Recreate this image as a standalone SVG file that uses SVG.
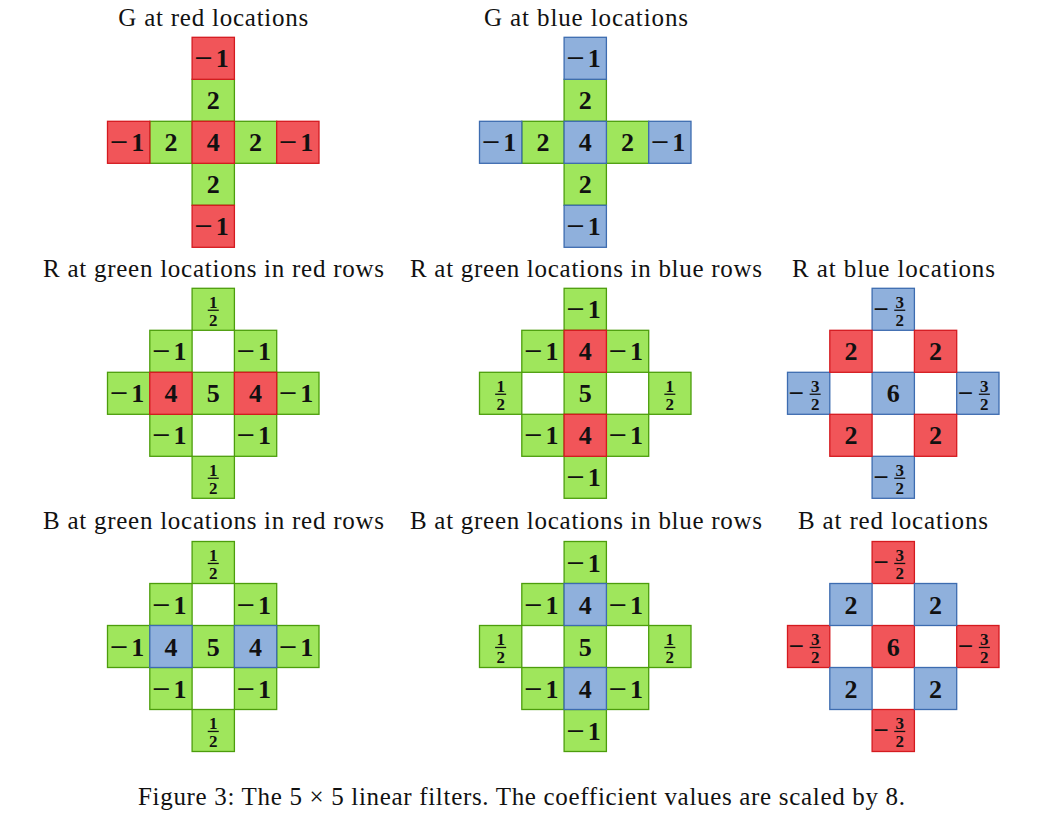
<svg xmlns="http://www.w3.org/2000/svg" width="1056" height="815" viewBox="0 0 1056 815">
<style>
.r{fill:#F15559;stroke:#D41A1F;stroke-width:1.3}
.g{fill:#9FE65C;stroke:#4C9D0C;stroke-width:1.3}
.b{fill:#8FB0DC;stroke:#3D6CB0;stroke-width:1.3}
.n{font-family:"Liberation Serif","DejaVu Serif",serif;font-weight:bold;font-size:26px;text-anchor:middle;fill:#111}
.f{font-family:"Liberation Serif","DejaVu Serif",serif;font-weight:bold;font-size:17px;text-anchor:middle;fill:#111}
.t{font-family:"Liberation Serif","DejaVu Serif",serif;font-size:25px;text-anchor:middle;fill:#111}
.bar{fill:#111}
</style>
<rect width="1056" height="815" fill="#fff"/>
<defs>
<g id="half">
<text class="f" x="0" y="-1.5">1</text>
<rect class="bar" x="-5.5" y="0.3" width="11" height="1.3"/>
<text class="f" x="0" y="16.5">2</text>
</g>
<g id="m1">
<text class="n" transform="translate(-9.5,9) scale(1.25,1)">−</text>
<text class="n" x="9" y="9">1</text>
</g>
<g id="m32">
<text class="n" transform="translate(-12,8.5) scale(1.05,1)">−</text>
<text class="f" x="6.5" y="-1.5">3</text>
<rect class="bar" x="1" y="0.3" width="11" height="1.3"/>
<text class="f" x="6.5" y="16.5">2</text>
</g>
</defs>

<g id="titles">
<text class="t" x="213.3" y="26" textLength="190">G at red locations</text>
<text class="t" x="586" y="26" textLength="204">G at blue locations</text>
<text class="t" x="213.5" y="277" textLength="341">R at green locations in red rows</text>
<text class="t" x="586" y="277" textLength="352">R at green locations in blue rows</text>
<text class="t" x="893.5" y="277" textLength="203">R at blue locations</text>
<text class="t" x="213.5" y="529" textLength="341">B at green locations in red rows</text>
<text class="t" x="586" y="529" textLength="352">B at green locations in blue rows</text>
<text class="t" x="893" y="529" textLength="190">B at red locations</text>
</g>

<!-- G at red -->
<g id="g-red" transform="translate(107.5,37.3)">
<rect class="g" x="84.6" y="42" width="42.3" height="42"/>
<rect class="g" x="84.6" y="126" width="42.3" height="42"/>
<rect class="g" x="42.3" y="84" width="42.3" height="42"/>
<rect class="g" x="126.9" y="84" width="42.3" height="42"/>
<rect class="r" x="84.6" y="0" width="42.3" height="42"/>
<rect class="r" x="84.6" y="168" width="42.3" height="42"/>
<rect class="r" x="0" y="84" width="42.3" height="42"/>
<rect class="r" x="169.2" y="84" width="42.3" height="42"/>
<rect class="r" x="84.6" y="84" width="42.3" height="42"/>
<text class="n" x="105.75" y="72">2</text>
<text class="n" x="105.75" y="156">2</text>
<text class="n" x="63.45" y="114">2</text>
<text class="n" x="148.05" y="114">2</text>
<text class="n" x="105.75" y="114">4</text>
<use href="#m1" x="105.75" y="21"/>
<use href="#m1" x="105.75" y="189"/>
<use href="#m1" x="21.15" y="105"/>
<use href="#m1" x="190.35" y="105"/>
</g>

<!-- G at blue -->
<g id="g-blue" transform="translate(479.5,37.3)">
<rect class="g" x="84.6" y="42" width="42.3" height="42"/>
<rect class="g" x="84.6" y="126" width="42.3" height="42"/>
<rect class="g" x="42.3" y="84" width="42.3" height="42"/>
<rect class="g" x="126.9" y="84" width="42.3" height="42"/>
<rect class="b" x="84.6" y="0" width="42.3" height="42"/>
<rect class="b" x="84.6" y="168" width="42.3" height="42"/>
<rect class="b" x="0" y="84" width="42.3" height="42"/>
<rect class="b" x="169.2" y="84" width="42.3" height="42"/>
<rect class="b" x="84.6" y="84" width="42.3" height="42"/>
<text class="n" x="105.75" y="72">2</text>
<text class="n" x="105.75" y="156">2</text>
<text class="n" x="63.45" y="114">2</text>
<text class="n" x="148.05" y="114">2</text>
<text class="n" x="105.75" y="114">4</text>
<use href="#m1" x="105.75" y="21"/>
<use href="#m1" x="105.75" y="189"/>
<use href="#m1" x="21.15" y="105"/>
<use href="#m1" x="190.35" y="105"/>
</g>

<!-- R at green in red rows -->
<g id="r-green-red" transform="translate(107.5,288.3)">
<rect class="g" x="84.6" y="0" width="42.3" height="42"/>
<rect class="g" x="42.3" y="42" width="42.3" height="42"/>
<rect class="g" x="126.9" y="42" width="42.3" height="42"/>
<rect class="g" x="0" y="84" width="42.3" height="42"/>
<rect class="g" x="84.6" y="84" width="42.3" height="42"/>
<rect class="g" x="169.2" y="84" width="42.3" height="42"/>
<rect class="g" x="42.3" y="126" width="42.3" height="42"/>
<rect class="g" x="126.9" y="126" width="42.3" height="42"/>
<rect class="g" x="84.6" y="168" width="42.3" height="42"/>
<rect class="r" x="42.3" y="84" width="42.3" height="42"/>
<rect class="r" x="126.9" y="84" width="42.3" height="42"/>
<use href="#half" x="105.75" y="21"/>
<use href="#half" x="105.75" y="189"/>
<use href="#m1" x="63.45" y="63"/>
<use href="#m1" x="148.05" y="63"/>
<use href="#m1" x="21.15" y="105"/>
<use href="#m1" x="190.35" y="105"/>
<use href="#m1" x="63.45" y="147"/>
<use href="#m1" x="148.05" y="147"/>
<text class="n" x="63.45" y="114">4</text>
<text class="n" x="105.75" y="114">5</text>
<text class="n" x="148.05" y="114">4</text>
</g>

<!-- R at green in blue rows -->
<g id="r-green-blue" transform="translate(479.5,288.3)">
<rect class="g" x="84.6" y="0" width="42.3" height="42"/>
<rect class="g" x="42.3" y="42" width="42.3" height="42"/>
<rect class="g" x="126.9" y="42" width="42.3" height="42"/>
<rect class="g" x="0" y="84" width="42.3" height="42"/>
<rect class="g" x="84.6" y="84" width="42.3" height="42"/>
<rect class="g" x="169.2" y="84" width="42.3" height="42"/>
<rect class="g" x="42.3" y="126" width="42.3" height="42"/>
<rect class="g" x="126.9" y="126" width="42.3" height="42"/>
<rect class="g" x="84.6" y="168" width="42.3" height="42"/>
<rect class="r" x="84.6" y="42" width="42.3" height="42"/>
<rect class="r" x="84.6" y="126" width="42.3" height="42"/>
<use href="#m1" x="105.75" y="21"/>
<use href="#m1" x="105.75" y="189"/>
<use href="#m1" x="63.45" y="63"/>
<use href="#m1" x="148.05" y="63"/>
<use href="#m1" x="63.45" y="147"/>
<use href="#m1" x="148.05" y="147"/>
<use href="#half" x="21.15" y="105"/>
<use href="#half" x="190.35" y="105"/>
<text class="n" x="105.75" y="72">4</text>
<text class="n" x="105.75" y="114">5</text>
<text class="n" x="105.75" y="156">4</text>
</g>

<!-- R at blue -->
<g id="r-blue" transform="translate(787.5,288.3)">
<rect class="b" x="84.6" y="0" width="42.3" height="42"/>
<rect class="b" x="0" y="84" width="42.3" height="42"/>
<rect class="b" x="84.6" y="84" width="42.3" height="42"/>
<rect class="b" x="169.2" y="84" width="42.3" height="42"/>
<rect class="b" x="84.6" y="168" width="42.3" height="42"/>
<rect class="r" x="42.3" y="42" width="42.3" height="42"/>
<rect class="r" x="126.9" y="42" width="42.3" height="42"/>
<rect class="r" x="42.3" y="126" width="42.3" height="42"/>
<rect class="r" x="126.9" y="126" width="42.3" height="42"/>
<use href="#m32" x="105.75" y="21"/>
<use href="#m32" x="21.15" y="105"/>
<use href="#m32" x="190.35" y="105"/>
<use href="#m32" x="105.75" y="189"/>
<text class="n" x="63.45" y="72">2</text>
<text class="n" x="148.05" y="72">2</text>
<text class="n" x="63.45" y="156">2</text>
<text class="n" x="148.05" y="156">2</text>
<text class="n" x="105.75" y="114">6</text>
</g>

<!-- B at green in red rows -->
<g id="b-green-red" transform="translate(107.5,541.5)">
<rect class="g" x="84.6" y="0" width="42.3" height="42"/>
<rect class="g" x="42.3" y="42" width="42.3" height="42"/>
<rect class="g" x="126.9" y="42" width="42.3" height="42"/>
<rect class="g" x="0" y="84" width="42.3" height="42"/>
<rect class="g" x="84.6" y="84" width="42.3" height="42"/>
<rect class="g" x="169.2" y="84" width="42.3" height="42"/>
<rect class="g" x="42.3" y="126" width="42.3" height="42"/>
<rect class="g" x="126.9" y="126" width="42.3" height="42"/>
<rect class="g" x="84.6" y="168" width="42.3" height="42"/>
<rect class="b" x="42.3" y="84" width="42.3" height="42"/>
<rect class="b" x="126.9" y="84" width="42.3" height="42"/>
<use href="#half" x="105.75" y="21"/>
<use href="#half" x="105.75" y="189"/>
<use href="#m1" x="63.45" y="63"/>
<use href="#m1" x="148.05" y="63"/>
<use href="#m1" x="21.15" y="105"/>
<use href="#m1" x="190.35" y="105"/>
<use href="#m1" x="63.45" y="147"/>
<use href="#m1" x="148.05" y="147"/>
<text class="n" x="63.45" y="114">4</text>
<text class="n" x="105.75" y="114">5</text>
<text class="n" x="148.05" y="114">4</text>
</g>

<!-- B at green in blue rows -->
<g id="b-green-blue" transform="translate(479.5,541.5)">
<rect class="g" x="84.6" y="0" width="42.3" height="42"/>
<rect class="g" x="42.3" y="42" width="42.3" height="42"/>
<rect class="g" x="126.9" y="42" width="42.3" height="42"/>
<rect class="g" x="0" y="84" width="42.3" height="42"/>
<rect class="g" x="84.6" y="84" width="42.3" height="42"/>
<rect class="g" x="169.2" y="84" width="42.3" height="42"/>
<rect class="g" x="42.3" y="126" width="42.3" height="42"/>
<rect class="g" x="126.9" y="126" width="42.3" height="42"/>
<rect class="g" x="84.6" y="168" width="42.3" height="42"/>
<rect class="b" x="84.6" y="42" width="42.3" height="42"/>
<rect class="b" x="84.6" y="126" width="42.3" height="42"/>
<use href="#m1" x="105.75" y="21"/>
<use href="#m1" x="105.75" y="189"/>
<use href="#m1" x="63.45" y="63"/>
<use href="#m1" x="148.05" y="63"/>
<use href="#m1" x="63.45" y="147"/>
<use href="#m1" x="148.05" y="147"/>
<use href="#half" x="21.15" y="105"/>
<use href="#half" x="190.35" y="105"/>
<text class="n" x="105.75" y="72">4</text>
<text class="n" x="105.75" y="114">5</text>
<text class="n" x="105.75" y="156">4</text>
</g>

<!-- B at red -->
<g id="b-red" transform="translate(787.5,541.5)">
<rect class="r" x="84.6" y="0" width="42.3" height="42"/>
<rect class="r" x="0" y="84" width="42.3" height="42"/>
<rect class="r" x="84.6" y="84" width="42.3" height="42"/>
<rect class="r" x="169.2" y="84" width="42.3" height="42"/>
<rect class="r" x="84.6" y="168" width="42.3" height="42"/>
<rect class="b" x="42.3" y="42" width="42.3" height="42"/>
<rect class="b" x="126.9" y="42" width="42.3" height="42"/>
<rect class="b" x="42.3" y="126" width="42.3" height="42"/>
<rect class="b" x="126.9" y="126" width="42.3" height="42"/>
<use href="#m32" x="105.75" y="21"/>
<use href="#m32" x="21.15" y="105"/>
<use href="#m32" x="190.35" y="105"/>
<use href="#m32" x="105.75" y="189"/>
<text class="n" x="63.45" y="72">2</text>
<text class="n" x="148.05" y="72">2</text>
<text class="n" x="63.45" y="156">2</text>
<text class="n" x="148.05" y="156">2</text>
<text class="n" x="105.75" y="114">6</text>
</g>

<g id="connectors"/>

<text id="caption" class="t" x="521.5" y="805" textLength="767">Figure 3: The 5 × 5 linear filters. The coefficient values are scaled by 8.</text>
</svg>
